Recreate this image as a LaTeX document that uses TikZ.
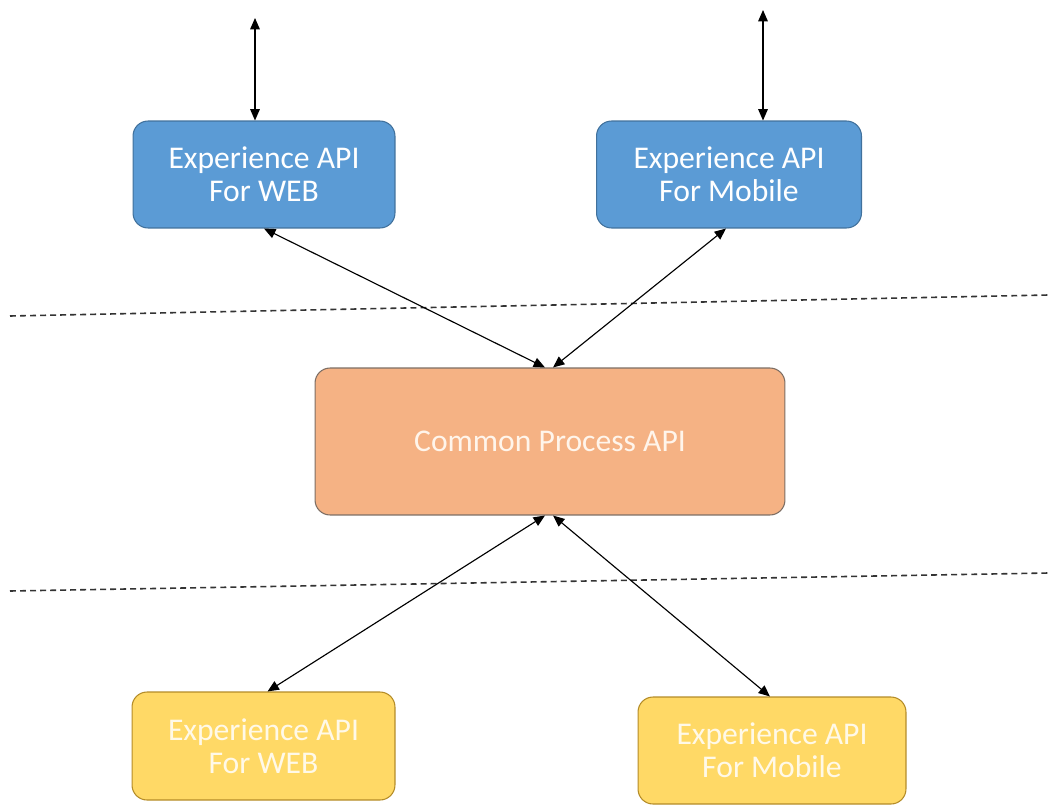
\documentclass[tikz,border=0pt]{standalone}
\usepackage{fontspec}
\setmainfont{Carlito}
\usepackage{tikz}
\usetikzlibrary{arrows.meta,positioning,calc}
\definecolor{expblue}{RGB}{91,155,213}
\definecolor{expblueline}{RGB}{65,113,156}
\definecolor{procorange}{RGB}{245,178,132}
\definecolor{procline}{RGB}{125,110,100}
\definecolor{sysyellow}{RGB}{255,217,102}
\definecolor{sysline}{RGB}{180,140,40}
\tikzset{
  api/.style    ={rectangle,rounded corners=3mm,draw,line width=0.6pt,align=center,
                  font=\fontsize{18}{19}\selectfont,text=white},
  expbox/.style ={api,fill=expblue,draw=expblueline},
  procbox/.style={api,fill=procorange,draw=procline,text=white!92!orange},
  sysbox/.style ={api,fill=sysyellow,draw=sysline,text=white!85!sysyellow},
  link/.style   ={{Triangle[length=6.5pt,width=5.5pt]}-{Triangle[length=6.5pt,width=5.5pt]},
                  line width=0.65pt},
  layer/.style  ={line width=0.9pt,black!80,dash pattern=on 3.4pt off 2.3pt},
}
\begin{document}
\begin{tikzpicture}[x=0.02cm,y=-0.02cm]
  \useasboundingbox (0,0) rectangle (1048,805);
  % layer boundaries
  \coordinate (l1a) at (10,316);  \coordinate (l1b) at (1048,295);
  \coordinate (l2a) at (10,591);  \coordinate (l2b) at (1048,573);
  \draw[layer] (l1a) -- (l1b);
  \draw[layer] (l2a) -- (l2b);

  \node[expbox,minimum width=5.24cm,minimum height=2.14cm] (web1) at (264,174.5){Experience API\\For WEB};
  \node[expbox,minimum width=5.3cm,minimum height=2.14cm] (mob1) at (729,174.5){Experience API\\For Mobile};
  \node[procbox,minimum width=9.4cm,minimum height=2.94cm] (proc) at (550,441.5){Common Process API};
  \node[sysbox,minimum width=5.26cm,minimum height=2.16cm] (web2) at (263.5,746){Experience API\\For WEB};
  \node[sysbox,minimum width=5.36cm,minimum height=2.14cm] (mob2) at (772,750.5){Experience API\\For Mobile};

  \coordinate (top1) at (255,18);
  \coordinate (top2) at (763,10);
  \draw[link] (top1) -- ($(web1.north)+(-9,0)$);
  \draw[link] (top2) -- ($(mob1.north)+(34,0)$);
  \draw[link] (web1.south) -- ($(proc.north)+(-5,0)$);
  \draw[link] ($(mob1.south)+(-3,0)$) -- ($(proc.north)+(3,0)$);
  \draw[link] ($(proc.south)+(-5,0)$) -- ($(web2.north)+(4,0)$);
  \draw[link] ($(proc.south)+(3,0)$) -- ($(mob2.north)+(-2,0)$);
\end{tikzpicture}
\end{document}
